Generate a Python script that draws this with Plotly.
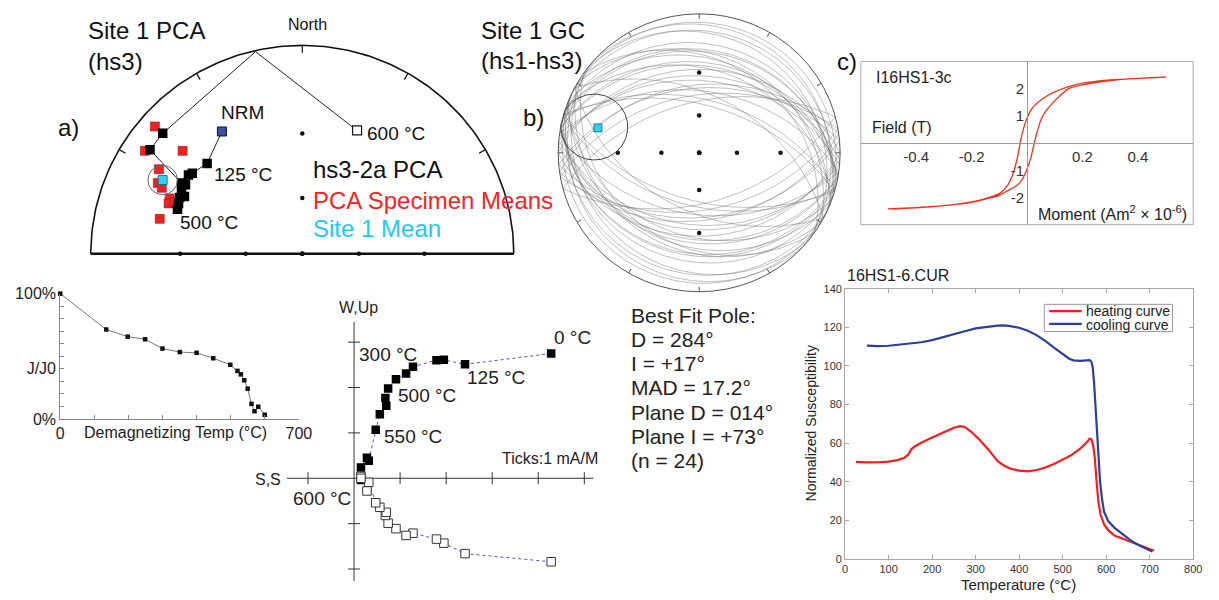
import numpy as np
import plotly.graph_objects as go

W, H = 1219, 600
FONT = "Liberation Sans, Arial, Helvetica, sans-serif"

# ======================= DATA =======================
# (a) hs3-2a PCA, stereographic coordinates (unit = primitive radius)
spec_mean_x = [-0.697, -0.744, -0.566, -0.678, -0.683, -0.664, -0.627, -0.632, -0.604, -0.674]
spec_mean_y = [0.611, 0.494, 0.494, 0.406, 0.340, 0.317, 0.266, 0.242, 0.247, 0.168]
site1_mean_x, site1_mean_y = [-0.660], [0.354]
site1_a95_r = 0.07
nrm_x, nrm_y = [-0.380], [0.587]
path_x = [-0.380, -0.450, -0.520, -0.538, -0.552, -0.571, -0.557, -0.580, -0.585, -0.590,
          -0.571, -0.720, -0.660]
path_y = [0.587, 0.434, 0.387, 0.378, 0.331, 0.303, 0.275, 0.270, 0.242, 0.214,
          0.340, 0.499, 0.578]
cross_x, cross_y = [-0.221], [0.970]          # path crossing the primitive
step600_x, step600_y = [0.259], [0.592]       # upper hemisphere 600 °C step

# (b) Site 1 great circles (pole dec / inc) and best-fit pole
gc_pole_dec = [14, 10, 18, 5, 22, 350, 38, 0, 25, 8, 15, 355, 30, 12, 345, 20, 3, 42, 28, 10, 352, 16, 35, 26]
gc_pole_inc = [73, 64, 76, 55, 68, 45, 80, 62, 82, 48, 42, 50, 70, 72, 40, 62, 58, 84, 45, 66, 52, 38, 67, 86]
best_D, best_I, best_MAD = 284, 17, 17.2
grid_inc = [90, 60, 30]
grid_az = [0, 90, 180, 270]
net_ticks_az = list(range(0, 360, 30))

# (c) hysteresis loop
hyst_a_x = [-0.5, -0.4, -0.3, -0.2, -0.15, -0.1, -0.07, -0.05, -0.035, -0.025, -0.015, 0.0,
            0.02, 0.04, 0.07, 0.1, 0.15, 0.2, 0.3, 0.4, 0.5]
hyst_a_y = [-2.42, -2.37, -2.3, -2.16, -2.04, -1.86, -1.55, -1.1, -0.55, 0.0, 0.45, 0.92,
            1.3, 1.5, 1.72, 1.88, 2.07, 2.2, 2.32, 2.38, 2.42]
hyst_b_x = [0.5, 0.4, 0.3, 0.2, 0.15, 0.1, 0.07, 0.05, 0.035, 0.025, 0.015, 0.0,
            -0.02, -0.04, -0.07, -0.1, -0.15, -0.2, -0.3, -0.4, -0.5]
hyst_b_y = [2.42, 2.38, 2.3, 2.14, 2.0, 1.55, 1.2, 0.85, 0.35, -0.05, -0.5, -0.95,
            -1.38, -1.58, -1.75, -1.92, -2.06, -2.18, -2.3, -2.38, -2.42]
hyst_xticks = [-0.4, -0.2, 0.2, 0.4]
hyst_yticks = [-2, -1, 1, 2]

# J/J0 demagnetisation curve
demag_T = [0, 135, 198, 249, 300, 351, 400, 449, 499, 520, 530, 540, 550, 561, 570, 581, 600]
demag_J = [100, 71.4, 65.7, 63.6, 56.2, 53.4, 52.8, 48.5, 43.3, 38.4, 35.6, 30.9, 24.2, 12.1, 6.2, 9.8, 3.4]
demag_xlabels = {0: "0", 700: "700"}
demag_ylabels = {0: "0%", 40: "J/J0", 100: "100%"}

# Zijderveld diagram (mA/m)
zij_h = [4.28, 2.41, 1.95, 1.79, 1.28, 1.13, 0.91, 0.74, 0.68, 0.70, 0.56, 0.47, 0.32, 0.28, 0.15, 0.15]
zij_up = [2.75, 2.51, 2.61, 2.60, 2.46, 2.31, 2.18, 1.98, 1.77, 1.60, 1.41, 1.07, 0.385, 0.45, 0.24, -0.04]
zij_down = [-1.84, -1.66, -1.43, -1.34, -1.21, -1.26, -1.11, -0.99, -0.82, -0.75, -0.64, -0.54,
            -0.09, -0.28, 0.04, 0.0]
zij_xticks = [-1, 1, 2, 3, 4, 5]
zij_yticks = [-2, -1, 1, 2, 3]

# Curie curve 16HS1-6.CUR
heat_T = [25, 50, 75, 100, 120, 135, 145, 152, 160, 175, 200, 225, 250, 265, 275, 290, 310, 330,
          350, 365, 380, 400, 420, 440, 460, 480, 500, 520, 540, 555, 562, 566, 570, 574, 578,
          582, 587, 595, 605, 620, 640, 660, 680, 700, 710]
heat_v = [50.3, 50.0, 50.1, 50.4, 51.2, 52.3, 54.0, 56.8, 58.3, 60.2, 62.9, 65.6, 68.0, 68.8,
          68.4, 65.9, 61.5, 56.5, 50.8, 48.4, 46.8, 45.8, 45.4, 46.1, 47.4, 49.2, 51.3, 53.8,
          57.1, 60.3, 62.4, 62.0, 59.0, 52.0, 40.0, 30.0, 23.0, 18.0, 14.8, 12.0, 10.3, 8.6,
          6.9, 4.9, 4.2]
cool_T = [50, 75, 100, 125, 150, 175, 200, 225, 250, 275, 300, 325, 350, 365, 380, 400, 420,
          440, 460, 480, 500, 515, 525, 540, 555, 562, 566, 569, 572, 575, 578, 582, 586, 590,
          595, 605, 620, 640, 660, 680, 700, 706]
cool_v = [110.6, 110.3, 110.5, 111.0, 111.6, 112.3, 113.4, 114.8, 116.4, 118.0, 119.5, 120.4,
          120.9, 121.0, 120.7, 119.8, 118.3, 116.0, 113.0, 109.5, 106.0, 103.8, 102.9, 102.7,
          102.9, 103.0, 102.2, 99.5, 92.0, 80.0, 67.0, 52.0, 40.0, 32.0, 24.5, 19.5, 16.0,
          12.5, 9.0, 6.5, 4.2, 3.8]

best_fit_lines = ["Best Fit Pole:", "D = 284°", "I = +17°", "MAD = 17.2°",
                  "Plane D = 014°", "Plane I = +73°", "(n = 24)"]

# ======================= HELPERS =======================
def stereo(dec, inc):
    dec = np.radians(np.asarray(dec, float))
    inc = np.abs(np.radians(np.asarray(inc, float)))
    r = np.tan((np.pi / 2 - inc) / 2)
    return r * np.sin(dec), r * np.cos(dec)


def vec(dec, inc):
    d, i = np.radians(dec), np.radians(inc)
    return np.array([np.cos(i) * np.cos(d), np.cos(i) * np.sin(d), np.sin(i)])


def to_dec_inc(v):
    return np.degrees(np.arctan2(v[:, 1], v[:, 0])), np.degrees(np.arcsin(np.clip(v[:, 2], -1, 1)))


def great_circle(pdec, pinc, n=241):
    p = vec(pdec, pinc)
    s = np.array([np.cos(np.radians(pdec + 90)), np.sin(np.radians(pdec + 90)), 0.0])
    d = np.cross(p, s)
    t = np.linspace(0, 2 * np.pi, n)
    v = np.outer(np.cos(t), s) + np.outer(np.sin(t), d)
    return stereo(*to_dec_inc(v))


def small_circle(dec, inc, rad, n=121):
    c = vec(dec, inc)
    u = np.cross(c, [0, 0, 1.0]); u /= np.linalg.norm(u)
    w = np.cross(c, u)
    t = np.linspace(0, 2 * np.pi, n)
    a = np.radians(rad)
    v = np.cos(a) * c + np.sin(a) * (np.outer(np.cos(t), u) + np.outer(np.sin(t), w))
    return stereo(*to_dec_inc(v))


shapes, ann = [], []


def text(x, y, s, size, color="#111", xanchor="left", yanchor="middle", **kw):
    ann.append(dict(x=x / W, y=1 - y / H, xref="paper", yref="paper", text=s, showarrow=False,
                    xanchor=xanchor, yanchor=yanchor,
                    font=dict(family=FONT, size=size, color=color), **kw))


fig = go.Figure()
NOL = dict(showlegend=False, hoverinfo="skip")

# ======================= (a) half stereonet =======================
th = np.linspace(0, np.pi, 181)
fig.add_trace(go.Scatter(x=np.cos(th), y=np.sin(th), mode="lines",
                         line=dict(color="#111", width=1.6), xaxis="x", yaxis="y", **NOL))
shapes.append(dict(type="line", xref="x", yref="y", x0=-1, x1=1, y0=0, y1=0,
                   line=dict(color="#111", width=2.5)))
for az in [-60, -30, 0, 30, 60]:
    a = np.radians(az)
    shapes.append(dict(type="line", xref="x", yref="y",
                       x0=np.sin(a), y0=np.cos(a), x1=0.965 * np.sin(a), y1=0.965 * np.cos(a),
                       line=dict(color="#111", width=1.2)))
ga_x, ga_y = [], []
for gi in grid_inc:
    for az in grid_az:
        gx, gy = stereo(az, gi)
        if gy >= -1e-9:
            ga_x.append(float(gx)); ga_y.append(float(gy))
fig.add_trace(go.Scatter(x=ga_x, y=ga_y, mode="markers", marker=dict(color="#111", size=4.5),
                         xaxis="x", yaxis="y", cliponaxis=False, **NOL))
fig.add_trace(go.Scatter(x=path_x[-1:] + cross_x + step600_x, y=path_y[-1:] + cross_y + step600_y,
                         mode="lines", line=dict(color="#222", width=1), xaxis="x", yaxis="y", **NOL))
fig.add_trace(go.Scatter(x=spec_mean_x, y=spec_mean_y, mode="markers",
                         marker=dict(symbol="square", size=9, color="#ee2222",
                                     line=dict(color="#9a1a1a", width=0.6)),
                         xaxis="x", yaxis="y", **NOL))
fig.add_trace(go.Scatter(x=path_x, y=path_y, mode="lines", line=dict(color="#222", width=1),
                         xaxis="x", yaxis="y", **NOL))
fig.add_trace(go.Scatter(x=path_x[1:], y=path_y[1:], mode="markers",
                         marker=dict(symbol="square", size=9.5, color="#000"),
                         xaxis="x", yaxis="y", **NOL))
fig.add_trace(go.Scatter(x=nrm_x, y=nrm_y, mode="markers",
                         marker=dict(symbol="square", size=9, color="#3d4ea6", line=dict(color="#111", width=1)),
                         xaxis="x", yaxis="y", **NOL))
fig.add_trace(go.Scatter(x=step600_x, y=step600_y, mode="markers",
                         marker=dict(symbol="square", size=9, color="white", line=dict(color="#111", width=1.2)),
                         xaxis="x", yaxis="y", **NOL))
fig.add_trace(go.Scatter(x=site1_mean_x, y=site1_mean_y, mode="markers",
                         marker=dict(symbol="square", size=9, color="#30d2f2", line=dict(color="#0b5f80", width=0.8)),
                         xaxis="x", yaxis="y", **NOL))
shapes.append(dict(type="circle", xref="x", yref="y",
                   x0=site1_mean_x[0] - site1_a95_r, x1=site1_mean_x[0] + site1_a95_r,
                   y0=site1_mean_y[0] - site1_a95_r, y1=site1_mean_y[0] + site1_a95_r,
                   line=dict(color="#666", width=1)))

# ======================= (b) full stereonet =======================
gcx, gcy = [], []
for dp, ip in zip(gc_pole_dec, gc_pole_inc):
    x, y = great_circle(dp, ip)
    gcx += list(x) + [None]; gcy += list(y) + [None]
fig.add_trace(go.Scatter(x=gcx, y=gcy, mode="lines", line=dict(color="rgba(110,110,110,0.55)", width=0.8),
                         xaxis="x2", yaxis="y2", **NOL))
shapes.append(dict(type="circle", xref="x2", yref="y2", x0=-1, x1=1, y0=-1, y1=1,
                   line=dict(color="#555", width=1)))
for az in net_ticks_az:
    a = np.radians(az)
    shapes.append(dict(type="line", xref="x2", yref="y2",
                       x0=np.sin(a), y0=np.cos(a), x1=0.965 * np.sin(a), y1=0.965 * np.cos(a),
                       line=dict(color="#555", width=1)))
gb_x, gb_y = [], []
for gi in grid_inc:
    for az in grid_az:
        gx, gy = stereo(az, gi)
        gb_x.append(float(gx)); gb_y.append(float(gy))
fig.add_trace(go.Scatter(x=gb_x, y=gb_y, mode="markers", marker=dict(color="#111", size=4.5),
                         xaxis="x2", yaxis="y2", **NOL))
scx, scy = small_circle(best_D, best_I, best_MAD)
fig.add_trace(go.Scatter(x=scx, y=scy, mode="lines", line=dict(color="#444", width=1),
                         xaxis="x2", yaxis="y2", **NOL))
bx, by = stereo([best_D], [best_I])
fig.add_trace(go.Scatter(x=bx, y=by, mode="markers",
                         marker=dict(symbol="square", size=8, color="#30d2f2", line=dict(color="#0b5f80", width=0.8)),
                         xaxis="x2", yaxis="y2", **NOL))

# ======================= (c) hysteresis =======================
fig.add_trace(go.Scatter(x=hyst_a_x + hyst_b_x, y=hyst_a_y + hyst_b_y, mode="lines",
                         line=dict(color="#f0321e", width=1.3, shape="spline", smoothing=0.6),
                         xaxis="x3", yaxis="y3", **NOL))
shapes.append(dict(type="rect", xref="paper", yref="paper", x0=869 / W, x1=1206 / W,
                   y0=1 - 223 / H, y1=1 - 55 / H, line=dict(color="#aaaaaa", width=1)))

# ======================= J/J0 =======================
fig.add_trace(go.Scatter(x=demag_T, y=demag_J, mode="lines+markers",
                         line=dict(color="#777", width=1),
                         marker=dict(symbol="square", size=4.5, color="#111"),
                         xaxis="x4", yaxis="y4", cliponaxis=False, **NOL))

# ======================= Zijderveld =======================
Z_X0, Z_X1, Z_Y0, Z_Y1 = -1.456, 5.203, -2.27, 3.447
shapes.append(dict(type="line", xref="x5", yref="y5", x0=Z_X0, x1=Z_X1, y0=0, y1=0,
                   line=dict(color="#333", width=1), layer="below"))
shapes.append(dict(type="line", xref="x5", yref="y5", x0=0, x1=0, y0=Z_Y0, y1=Z_Y1,
                   line=dict(color="#333", width=1), layer="below"))
for t in zij_xticks:
    shapes.append(dict(type="line", xref="x5", yref="y5", x0=t, x1=t, ysizemode="pixel", yanchor=0,
                       y0=-6, y1=6, line=dict(color="#333", width=1), layer="below"))
for t in zij_yticks:
    shapes.append(dict(type="line", xref="x5", yref="y5", y0=t, y1=t, xsizemode="pixel", xanchor=0,
                       x0=-6, x1=6, line=dict(color="#333", width=1), layer="below"))
fig.add_trace(go.Scatter(x=zij_h, y=zij_up, mode="lines+markers",
                         line=dict(color="#4656c8", width=1, dash="dot"),
                         marker=dict(symbol="square", size=8.5, color="#000"),
                         xaxis="x5", yaxis="y5", **NOL))
fig.add_trace(go.Scatter(x=zij_h, y=zij_down, mode="lines+markers",
                         line=dict(color="#4656c8", width=1, dash="dot"),
                         marker=dict(symbol="square", size=8.5, color="white", line=dict(color="#333", width=1)),
                         xaxis="x5", yaxis="y5", **NOL))

# ======================= Curie curve =======================
fig.add_trace(go.Scatter(x=heat_T, y=heat_v, mode="lines", name="heating curve",
                         line=dict(color="#ff1a1a", width=2.2), xaxis="x6", yaxis="y6", **NOL))
fig.add_trace(go.Scatter(x=cool_T, y=cool_v, mode="lines", name="cooling curve",
                         line=dict(color="#2c3f9e", width=2.2), xaxis="x6", yaxis="y6", **NOL))
shapes.append(dict(type="rect", xref="paper", yref="paper", x0=1055 / W, x1=1185 / W,
                   y0=1 - 333 / H, y1=1 - 305 / H, line=dict(color="#999", width=1),
                   fillcolor="white", layer="above"))
for yy, col in [(312, "#ff1a1a"), (325, "#2c3f9e")]:
    shapes.append(dict(type="line", xref="paper", yref="paper", x0=1060 / W, x1=1093 / W,
                       y0=1 - yy / H, y1=1 - yy / H, line=dict(color=col, width=2.2)))
text(1095, 312, "heating curve", 14, "#222")
text(1095, 326, "cooling curve", 14, "#222")

# ======================= TEXT =======================
text(83, 23, "Site 1 PCA", 24)
text(83, 55, "(hs3)", 24)
text(53, 123, "a)", 24)
text(308, 17, "North", 16, xanchor="center")
text(218, 108, "NRM", 19)
text(211, 171, "125 °C", 19)
text(176, 221, "500 °C", 19)
text(366, 129, "600 °C", 19)
text(311, 166, "hs3-2a PCA", 24)
text(311, 198, "PCA Specimen Means", 24, "#ff2020")
text(311, 227, "Site 1 Mean", 24, "#22c8ee")

text(482, 23, "Site 1 GC", 24)
text(482, 54, "(hs1-hs3)", 24)
text(524, 113, "b)", 24)

text(843, 55, "c)", 24)
text(882, 72, "I16HS1-3c", 16, "#222")
text(878, 123, "Field (T)", 16, "#222")
text(1047, 211, "Moment (Am<sup>2</sup> × 10<sup>-6</sup>)", 16, "#222")

for i, s in enumerate(best_fit_lines):
    text(634, 316 + 25 * i, s, 21, "#222")

text(174, 437, "Demagnetizing Temp (°C)", 16, "#222", xanchor="center")

text(338, 308, "W,Up", 16, "#222")
text(556, 339, "0 °C", 19, "#222")
text(358, 357, "300 °C", 19, "#222")
text(468, 380, "125 °C", 19, "#222")
text(398, 399, "500 °C", 19, "#222")
text(383, 441, "550 °C", 19, "#222")
text(503, 464, "Ticks:1 mA/M", 16, "#222")
text(283, 485, "S,S", 16, "#222", xanchor="right")
text(291, 505, "600 °C", 19, "#222")

text(853, 275, "16HS1-6.CUR", 16, "#222")
text(1029, 593, "Temperature (°C)", 15, "#222", xanchor="center")
text(818, 428, "Normalized Susceptibility", 14, "#222", xanchor="center", textangle=-90)

# ======================= LAYOUT =======================
hid = dict(visible=False, fixedrange=True)
RA, CXA, CYA = 214.5, 302.5, 253
RB, CXB, CYB = 143, 705, 149
tickfont16 = dict(family=FONT, size=16, color="#222")
fig.update_layout(
    width=W, height=H, margin=dict(l=0, r=0, t=0, b=0), autosize=False,
    paper_bgcolor="white", plot_bgcolor="rgba(0,0,0,0)", showlegend=False,
    font=dict(family=FONT, color="#222"),
    xaxis=dict(hid, domain=[(CXA - 1.1 * RA) / W, (CXA + 1.1 * RA) / W], range=[-1.1, 1.1], anchor="y"),
    yaxis=dict(hid, domain=[1 - (CYA + 0.1 * RA) / H, 1 - (CYA - 1.1 * RA) / H], range=[-0.1, 1.1], anchor="x"),
    xaxis2=dict(hid, domain=[(CXB - 1.04 * RB) / W, (CXB + 1.04 * RB) / W], range=[-1.04, 1.04], anchor="y2"),
    yaxis2=dict(hid, domain=[1 - (CYB + 1.04 * RB) / H, 1 - (CYB - 1.04 * RB) / H], range=[-1.04, 1.04], anchor="x2"),
    xaxis3=dict(domain=[869 / W, 1206 / W], range=[-0.6, 0.6], anchor="free", position=1 - 139 / H,
                showline=True, linecolor="#999", linewidth=1, showgrid=False, zeroline=False,
                tickvals=hyst_xticks, ticktext=[f"{v:g}" for v in hyst_xticks], ticks="",
                tickfont=dict(family=FONT, size=15, color="#333"), fixedrange=True),
    yaxis3=dict(domain=[1 - 223 / H, 1 - 55 / H], range=[-3, 3], anchor="free", position=1037.5 / W,
                showline=True, linecolor="#999", linewidth=1, showgrid=False, zeroline=False,
                tickvals=hyst_yticks, ticktext=[f"{v:g}" for v in hyst_yticks], ticks="",
                tickfont=dict(family=FONT, size=15, color="#333"), fixedrange=True),
    xaxis4=dict(domain=[57 / W, 299 / W], range=[0, 700], anchor="y4", showline=True, linecolor="#888",
                showgrid=False, zeroline=False, ticks="inside", ticklen=4, tickcolor="#888",
                tickvals=list(demag_xlabels), ticktext=list(demag_xlabels.values()),
                minor=dict(tickmode="array", tickvals=list(range(100, 700, 100)), ticks="inside",
                           ticklen=4, tickcolor="#888", showgrid=False),
                tickfont=tickfont16, fixedrange=True),
    yaxis4=dict(domain=[1 - 423 / H, 1 - 294 / H], range=[0, 100], anchor="x4", showline=True, linecolor="#888",
                showgrid=False, zeroline=False, ticks="inside", ticklen=4, tickcolor="#888",
                tickvals=list(demag_ylabels), ticktext=list(demag_ylabels.values()),
                minor=dict(tickmode="array", tickvals=[v for v in range(10, 100, 10) if v != 40],
                           ticks="inside", ticklen=4, tickcolor="#888", showgrid=False),
                tickfont=tickfont16, fixedrange=True),
    xaxis5=dict(hid, domain=[287 / W, 598 / W], range=[Z_X0, Z_X1], anchor="y5"),
    yaxis5=dict(hid, domain=[1 - 590 / H, 1 - 323 / H], range=[Z_Y0, Z_Y1], anchor="x5"),
    xaxis6=dict(domain=[853 / W, 1206 / W], range=[0, 800], anchor="y6", showline=True, mirror="ticks",
                linecolor="#a8a8a8", showgrid=False, zeroline=False, ticks="inside", ticklen=4,
                tickcolor="#a8a8a8", tick0=0, dtick=100,
                tickfont=dict(family=FONT, size=11, color="#333"), fixedrange=True),
    yaxis6=dict(domain=[1 - 567 / H, 1 - 289 / H], range=[0, 140], anchor="x6", showline=True, mirror="ticks",
                linecolor="#a8a8a8", showgrid=False, zeroline=False, ticks="inside", ticklen=4,
                tickcolor="#a8a8a8", tick0=0, dtick=20,
                tickfont=dict(family=FONT, size=11, color="#333"), fixedrange=True),
    shapes=shapes, annotations=ann,
)

fig.write_html("out.html")
